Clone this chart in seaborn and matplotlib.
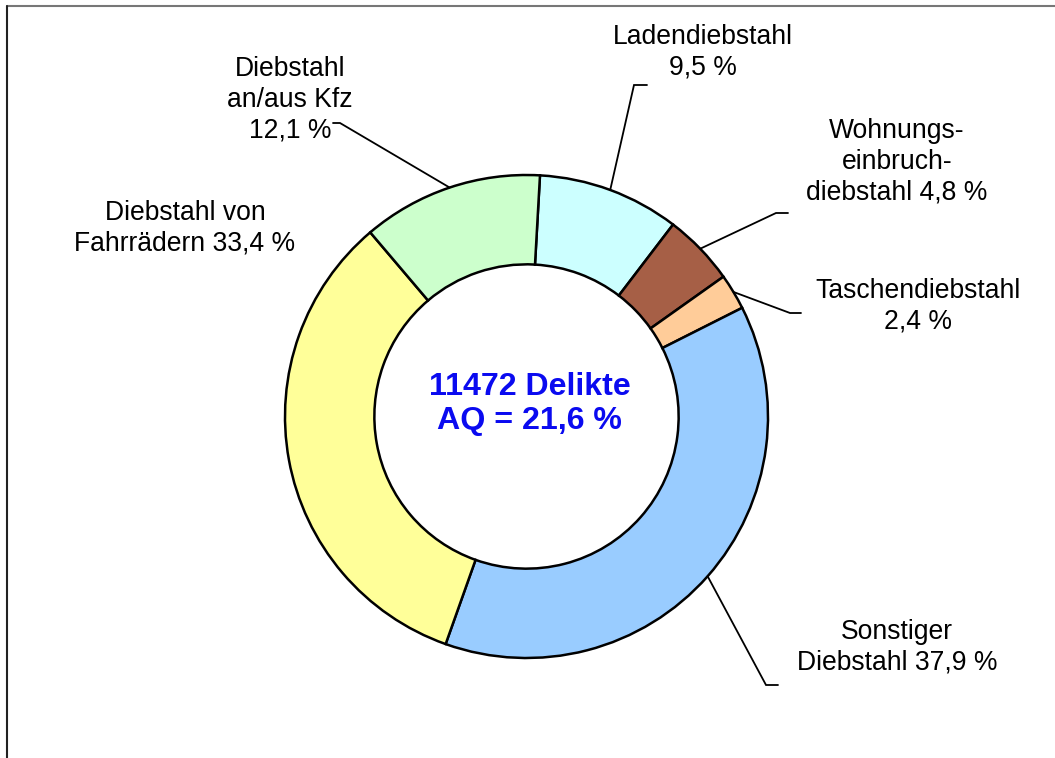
import numpy as np
import matplotlib
matplotlib.use("Agg")
import matplotlib.pyplot as plt
import seaborn as sns
from matplotlib.lines import Line2D

sns.set_style("white")
plt.rcParams['font.family'] = ['Liberation Sans', 'DejaVu Sans']

# data (clockwise from top)
labels = ["Ladendiebstahl\n9,5 %",
          "Wohnungs-\neinbruch-\ndiebstahl 4,8 %",
          "Taschendiebstahl\n2,4 %",
          "Sonstiger\nDiebstahl 37,9 %",
          "Diebstahl von\nFahrrädern 33,4 %",
          "Diebstahl\nan/aus Kfz\n12,1 %"]
shares = [9.5, 4.8, 2.4, 37.9, 33.4, 12.1]
colors = ["#CCFFFF", "#A65F46", "#FFCC99", "#99CCFF", "#FFFF99", "#CCFFCC"]
center_text = "11472 Delikte\nAQ = 21,6 %"

# layout in pixel coordinates (y measured from top)
W, H = 1055, 758
cx, cy, R = 526.5, 416.5, 241.5
text_pos = [(703, 52), (897, 162), (918, 306), (897, 647), (185, 228), (290, 100)]
knees = [((634, 85), (647, 85)),
         ((776, 213), (788, 213)),
         ((790, 313), (801, 313)),
         ((766, 685), (778, 685)),
         None,
         ((340, 123), (333, 123))]

fig = plt.figure(figsize=(W / 100, H / 100), dpi=100)
ax = fig.add_axes([0, 0, 1, 1])
ax.set_xlim(0, W)
ax.set_ylim(0, H)
ax.axis("off")

wedges, _ = ax.pie(shares, colors=colors, startangle=86.8, counterclock=False,
                   radius=R, center=(cx, H - cy),
                   wedgeprops=dict(width=R * 0.37, edgecolor="black", linewidth=1.8))
ax.set_xlim(0, W)
ax.set_ylim(0, H)
ax.set_aspect("equal")

for w, lab, (tx, ty), kn in zip(wedges, labels, text_pos, knees):
    ax.text(tx, H - ty, lab, ha="center", va="center", fontsize=19.1,
            linespacing=1.24, color="black")
    if kn is None:
        continue
    mid = np.deg2rad((w.theta1 + w.theta2) / 2)
    x0 = cx + R * np.cos(mid)
    y0 = (H - cy) + R * np.sin(mid)
    (kx, ky), (ex, ey) = kn
    ax.plot([x0, kx, ex], [y0, H - ky, H - ey], color="black", lw=1.3,
            solid_joinstyle="miter")

ax.text(cx + 3, H - 404, center_text, ha="center", va="center", fontsize=23.1,
        fontweight="bold", color="#0A0AF0", linespacing=1.19)

# frame lines (top and left only)
fig.add_artist(Line2D([7 / W, 1], [1 - 6 / H, 1 - 6 / H], color="#777777", lw=1.5))
fig.add_artist(Line2D([7 / W, 7 / W], [0, 1 - 6 / H], color="#222222", lw=1.5))

fig.savefig("out.png", dpi=100)
